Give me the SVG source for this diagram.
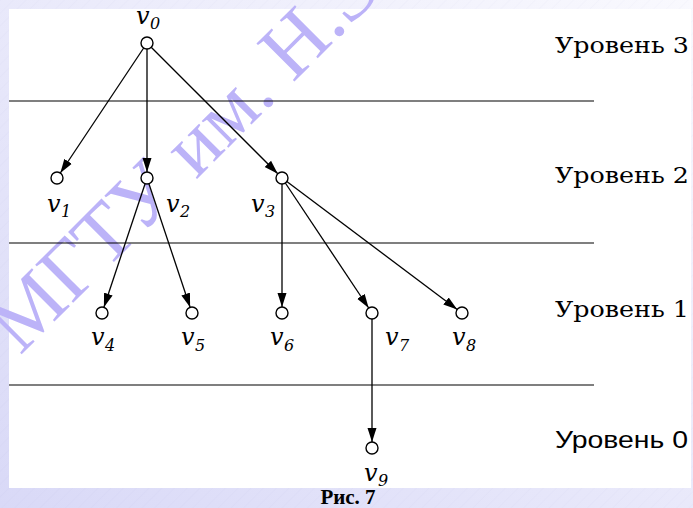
<svg xmlns="http://www.w3.org/2000/svg" width="693" height="508" viewBox="0 0 693 508">
<style>
.lvl{stroke:#000;stroke-width:1.2;fill:none}
.edge{stroke:#000;stroke-width:1.3;fill:none;marker-end:url(#ah)}
.node{fill:#fff;stroke:#000;stroke-width:1.4}
.lab{font-family:'DejaVu Serif','Liberation Serif',serif;font-style:italic;font-size:24px;fill:#000}
.sub{font-size:16px}
.lv{font-family:'DejaVu Serif','Liberation Serif',serif;font-size:22px;fill:#000}
.lv0{font-family:'Liberation Sans',Arial,sans-serif;font-size:24px;fill:#000}
.cap{font-family:'Liberation Serif','DejaVu Serif',serif;font-weight:bold;font-size:21px;fill:#000}
.wm{font-family:'Liberation Serif','DejaVu Serif',serif;font-size:82px;fill:#bcb3f8}
</style>
<defs>
<linearGradient id="bg" x1="0" y1="1" x2="1" y2="0">
<stop offset="0" stop-color="#d9d9f7"/>
<stop offset="1" stop-color="#f9f9fe"/>
</linearGradient>
<pattern id="hatch" width="9" height="9" patternUnits="userSpaceOnUse" patternTransform="rotate(45)">
<line x1="0" y1="0" x2="0" y2="9" stroke="#8080c0" stroke-opacity="0.06" stroke-width="1"/>
</pattern>
<marker id="ah" markerUnits="userSpaceOnUse" markerWidth="15" markerHeight="10" refX="14" refY="5" orient="auto">
<path d="M0,0.5 L14,5 L0,9.5 z" fill="#000"/>
</marker>
</defs>
<rect x="0" y="0" width="693" height="508" fill="url(#bg)"/>
<rect x="0" y="0" width="693" height="508" fill="url(#hatch)"/>
<rect x="9" y="9" width="682" height="479" fill="#fff"/>
<g id="watermark">
<text class="wm" transform="translate(20,356) rotate(-45)">МГТУ им. Н.Э.</text>
</g>
<g id="levels">
<line class="lvl" x1="9" y1="101" x2="594" y2="101"/>
<line class="lvl" x1="9" y1="243" x2="594" y2="243"/>
<line class="lvl" x1="9" y1="385" x2="594" y2="385"/>
<text class="lv" x="555" y="53" textLength="134" lengthAdjust="spacingAndGlyphs">Уровень 3</text>
<text class="lv" x="555" y="183" textLength="134" lengthAdjust="spacingAndGlyphs">Уровень 2</text>
<text class="lv" x="555" y="317" textLength="134" lengthAdjust="spacingAndGlyphs">Уровень 1</text>
<text class="lv0" x="555" y="448" textLength="133" lengthAdjust="spacingAndGlyphs">Уровень 0</text>
</g>
<g id="connectors">
<line class="edge" x1="143.67" y1="47.99" x2="60.33" y2="173.01"/>
<line class="edge" x1="147" y1="49" x2="147" y2="172"/>
<line class="edge" x1="151.24" y1="47.24" x2="277.76" y2="173.76"/>
<line class="edge" x1="145.10" y1="183.69" x2="103.90" y2="307.31"/>
<line class="edge" x1="148.90" y1="183.69" x2="190.10" y2="307.31"/>
<line class="edge" x1="282" y1="184" x2="282" y2="307"/>
<line class="edge" x1="285.33" y1="182.99" x2="368.67" y2="308.01"/>
<line class="edge" x1="286.8" y1="181.6" x2="457.2" y2="309.4"/>
<line class="edge" x1="372" y1="319" x2="372" y2="442"/>
</g>
<g id="v0"><circle class="node" cx="147" cy="43" r="6"/><text class="lab" x="136" y="24">v<tspan class="sub" x="150" y="29">0</tspan></text></g>
<g id="v1"><circle class="node" cx="57" cy="178" r="6"/><text class="lab" x="47" y="212">v<tspan class="sub" x="61" y="217">1</tspan></text></g>
<g id="v2"><circle class="node" cx="147" cy="178" r="6"/><text class="lab" x="166" y="212">v<tspan class="sub" x="180" y="217">2</tspan></text></g>
<g id="v3"><circle class="node" cx="282" cy="178" r="6"/><text class="lab" x="251" y="212">v<tspan class="sub" x="265" y="217">3</tspan></text></g>
<g id="v4"><circle class="node" cx="102" cy="313" r="6"/><text class="lab" x="91" y="345">v<tspan class="sub" x="105" y="351">4</tspan></text></g>
<g id="v5"><circle class="node" cx="192" cy="313" r="6"/><text class="lab" x="181" y="345">v<tspan class="sub" x="195" y="351">5</tspan></text></g>
<g id="v6"><circle class="node" cx="282" cy="313" r="6"/><text class="lab" x="270" y="345">v<tspan class="sub" x="284" y="351">6</tspan></text></g>
<g id="v7"><circle class="node" cx="372" cy="313" r="6"/><text class="lab" x="385" y="345">v<tspan class="sub" x="399" y="351">7</tspan></text></g>
<g id="v8"><circle class="node" cx="462" cy="313" r="6"/><text class="lab" x="452" y="345">v<tspan class="sub" x="466" y="351">8</tspan></text></g>
<g id="v9"><circle class="node" cx="372" cy="448" r="6"/><text class="lab" x="364" y="481">v<tspan class="sub" x="378" y="486">9</tspan></text></g>
<text class="cap" x="348" y="504" text-anchor="middle">Рис. 7</text>
</svg>
